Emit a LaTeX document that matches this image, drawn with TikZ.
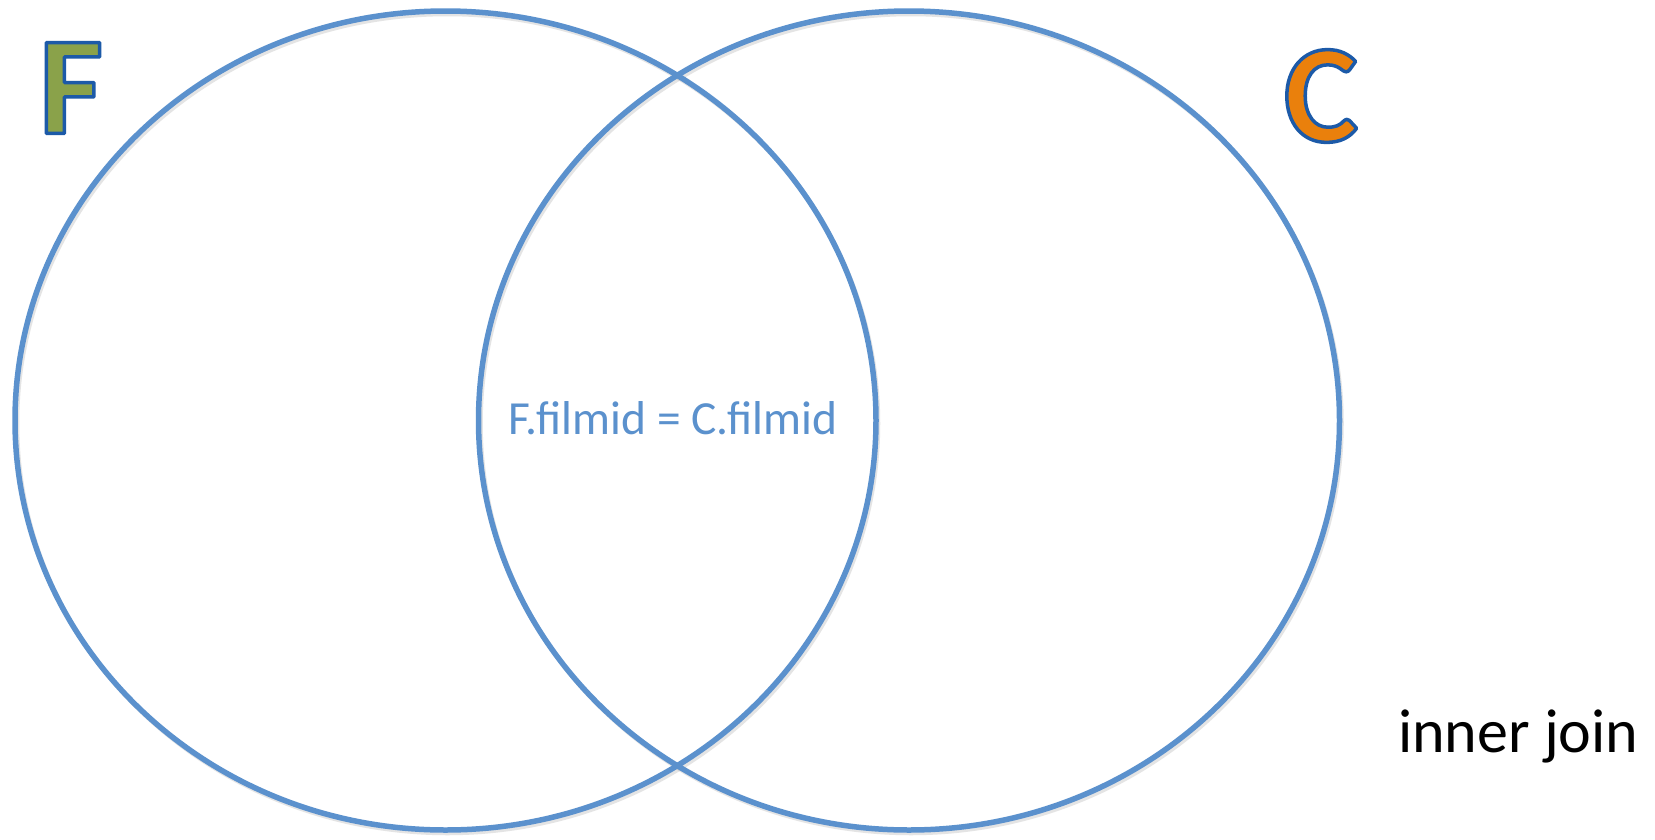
\documentclass[tikz,border=0pt]{standalone}
\usepackage{fontspec}
\setmainfont{Carlito}
\usetikzlibrary{shapes.geometric}
\definecolor{vennblue}{RGB}{91,145,205}
\definecolor{fgreen}{RGB}{138,162,74}
\definecolor{corange}{RGB}{234,128,12}
\newcommand{\outlinedletter}[2]{%
  \textcolor{#1}{\special{pdf:code 0.11 0.353 0.659 RG 2 Tr 3.5 w 1 j}#2\special{pdf:code 0 Tr}}}
\tikzset{
  setcircle/.style={ellipse, draw=vennblue, line width=5.5pt, minimum width=861, minimum height=819, inner sep=0pt},
  setshadow/.style={ellipse, draw=black!35, opacity=0.3, line width=4.5pt, minimum width=861, minimum height=819, inner sep=0pt},
  bigletter/.style={font=\fontsize{140}{140}\selectfont\bfseries, inner sep=0pt},
  condlabel/.style={text=vennblue, font=\fontsize{47.5}{47.5}\selectfont, inner sep=0pt},
  joinlabel/.style={text=black, font=\fontsize{62}{62}\selectfont, inner sep=0pt, anchor=base west}
}
\begin{document}
\begin{tikzpicture}[x=1pt,y=-1pt]
\useasboundingbox (0,0) rectangle (1655,839);
\fill[white] (0,0) rectangle (1655,839);
% soft shadows
\node[setshadow] (shF) at (447.5,423.5) {};
\node[setshadow] (shC) at (911,423.5) {};
% set circles
\node[setcircle] (F) at (445.5,420.5) {};
\node[setcircle] (C) at (909,420.5) {};
% letters
\node[bigletter] (Flabel) at (71,88) {\outlinedletter{fgreen}{F}};
\node[bigletter] (Clabel) at (1321,96) {\outlinedletter{corange}{C}};
% join condition
\node[condlabel] (cond) at (673,418) {F.filmid = C.filmid};
% caption
\node[joinlabel] (join) at (1398,752) {inner join};
\end{tikzpicture}
\end{document}
